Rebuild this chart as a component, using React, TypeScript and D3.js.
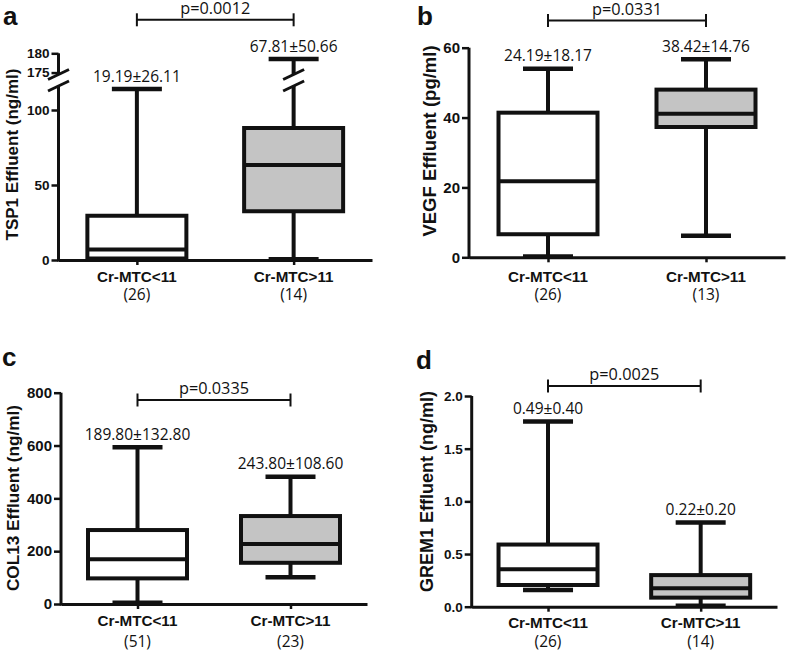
import React from 'react';
import * as d3 from 'd3';

const groups = ['Cr-MTC<11', 'Cr-MTC>11'];
const boxFills = ['#ffffff', '#c4c4c4'];

// [min, q1, median, q3, max] per group
const tsp1Boxes = [
  [0.5, 1, 7, 29.5, 114],
  [0.5, 32.5, 63.3, 88, 178.5],
];
const tsp1Means = ['19.19±26.11', '67.81±50.66'];
const tsp1Counts = ['(26)', '(14)'];
const tsp1Ticks = [0, 50, 100, 175, 180];

const vegfBoxes = [
  [0.2, 6.6, 21.8, 41.4, 54],
  [6.2, 37.3, 41.1, 48, 56.7],
];
const vegfMeans = ['24.19±18.17', '38.42±14.76'];
const vegfCounts = ['(26)', '(13)'];
const vegfTicks = [0, 20, 40, 60];

const col13Boxes = [
  [5, 97, 169, 280, 593],
  [101, 156, 227, 333, 482],
];
const col13Means = ['189.80±132.80', '243.80±108.60'];
const col13Counts = ['(51)', '(23)'];
const col13Ticks = [0, 200, 400, 600, 800];

const grem1Boxes = [
  [0.158, 0.206, 0.355, 0.59, 1.757],
  [0.01, 0.086, 0.175, 0.3, 0.8],
];
const grem1Means = ['0.49±0.40', '0.22±0.20'];
const grem1Counts = ['(26)', '(14)'];
const grem1Ticks = [0, 0.5, 1, 1.5, 2];

const pValues = ['p=0.0012', 'p=0.0331', 'p=0.0335', 'p=0.0025'];

const BOLD = "'Liberation Sans', Arial, Helvetica, sans-serif";
const REG = "'Open Sans', 'Noto Sans', sans-serif";
const INK = '#111';

const panels = [
  {
    letter: 'a', title: 'TSP1 Effluent (ng/ml)', boxes: tsp1Boxes, means: tsp1Means, counts: tsp1Counts,
    ticks: tsp1Ticks, fmt: d3.format('d'), p: pValues[0],
    // broken axis: 116..174.5 is skipped
    domain: [0, 116, 174.5, 180], range: [260, 86, 74.5, 53.3], brk: [116, 174.5],
    x0: 58.5, x1: 372, letterPos: [3, 25], titlePos: [17.5, 154.5], titleSize: 17, tickSize: 13.5,
    bracketY: 19.8, labelY: 282, countY: 299.5,
  },
  {
    letter: 'b', title: 'VEGF Effluent (pg/ml)', boxes: vegfBoxes, means: vegfMeans, counts: vegfCounts,
    ticks: vegfTicks, fmt: d3.format('d'), p: pValues[1],
    domain: [0, 60], range: [257.3, 47.7], brk: null,
    x0: 469, x1: 785, letterPos: [417, 25], titlePos: [436, 141], titleSize: 18.5, tickSize: 15,
    bracketY: 20.5, labelY: 282, countY: 300,
  },
  {
    letter: 'c', title: 'COL13 Effluent (ng/ml)', boxes: col13Boxes, means: col13Means, counts: col13Counts,
    ticks: col13Ticks, fmt: d3.format('d'), p: pValues[2],
    domain: [0, 800], range: [604, 392.7], brk: null,
    x0: 61, x1: 367, letterPos: [2, 366], titlePos: [18.5, 498], titleSize: 17.2, tickSize: 15,
    bracketY: 400, labelY: 626, countY: 647,
  },
  {
    letter: 'd', title: 'GREM1 Effluent (ng/ml)', boxes: grem1Boxes, means: grem1Means, counts: grem1Counts,
    ticks: grem1Ticks, fmt: d3.format('.1f'), p: pValues[3],
    domain: [0, 2], range: [606.7, 396], brk: null,
    x0: 471.7, x1: 777, letterPos: [416, 369], titlePos: [433, 491.5], titleSize: 18, tickSize: 13.5,
    bracketY: 386, labelY: 628, countY: 647,
  },
];

const Slash = ({ cx, cy }: { cx: number; cy: number }) => (
  <line x1={cx - 10.5} y1={cy + 5} x2={cx + 10.5} y2={cy - 5} stroke={INK} strokeWidth={3} />
);

const Panel = ({ cfg }: { cfg: any }) => {
  const yAxisRef = React.useRef(null);
  const xAxisRef = React.useRef(null);

  const y = d3.scaleLinear().domain(cfg.domain).range(cfg.range);
  const x = d3.scalePoint().domain(groups).range([cfg.x0, cfg.x1]).padding(0.5);
  const y0 = cfg.range[0];
  const yTop = cfg.range[cfg.range.length - 1];
  const boxW = 99;
  const capW = 50;

  React.useEffect(() => {
    const gy = d3.select(yAxisRef.current);
    gy.call(
      d3.axisLeft(y).tickValues(cfg.ticks).tickFormat(cfg.fmt).tickSize(7).tickPadding(2).tickSizeOuter(0) as any
    );
    gy.select('.domain').remove();
    gy.selectAll('.tick line').attr('stroke', INK).attr('stroke-width', 2.5);
    gy.selectAll('.tick text')
      .attr('fill', INK)
      .style('font-family', BOLD)
      .style('font-weight', 'bold')
      .style('font-size', `${cfg.tickSize}px`);

    const gx = d3.select(xAxisRef.current);
    gx.call(d3.axisBottom(x).tickSize(5).tickSizeOuter(0).tickFormat(() => '') as any);
    gx.select('.domain').attr('stroke', INK).attr('stroke-width', 3);
    gx.selectAll('.tick line').attr('stroke', INK).attr('stroke-width', 2.5);
  }, [cfg]);

  // y axis line, broken in two where the scale has a gap
  const axisSegs = cfg.brk
    ? [[y0 + 1.5, y(cfg.brk[0])], [y(cfg.brk[1]), yTop]]
    : [[y0 + 1.5, yTop]];

  const mx = ((x(groups[0]) as number) + (x(groups[1]) as number)) / 2;

  return (
    <g>
      <text x={cfg.letterPos[0]} y={cfg.letterPos[1]} fontFamily={BOLD} fontWeight="bold" fontSize={26} fill={INK}>
        {cfg.letter}
      </text>
      <text
        transform={`translate(${cfg.titlePos[0]},${cfg.titlePos[1]}) rotate(-90)`}
        textAnchor="middle"
        fontFamily={BOLD}
        fontWeight="bold"
        fontSize={cfg.titleSize}
        fill={INK}
      >
        {cfg.title}
      </text>

      {axisSegs.map((s: number[], i: number) => (
        <line key={i} x1={cfg.x0} x2={cfg.x0} y1={s[0]} y2={s[1]} stroke={INK} strokeWidth={3} />
      ))}
      {cfg.brk && cfg.brk.map((v: number, i: number) => <Slash key={i} cx={cfg.x0} cy={y(v)} />)}
      <g ref={yAxisRef} transform={`translate(${cfg.x0},0)`} />
      <g ref={xAxisRef} transform={`translate(0,${y0})`} />

      {cfg.boxes.map((b: number[], i: number) => {
        const cx = x(groups[i]) as number;
        const [mn, q1, md, q3, mxv] = b;
        const broken = cfg.brk && mxv > cfg.brk[1];
        const upper = broken
          ? [[y(q3), y(cfg.brk[0])], [y(cfg.brk[1]), y(mxv)]]
          : [[y(q3), y(mxv)]];
        return (
          <g key={i}>
            {upper.map((s: number[], j: number) => (
              <line key={j} x1={cx} x2={cx} y1={s[0]} y2={s[1]} stroke={INK} strokeWidth={4} />
            ))}
            {broken && cfg.brk.map((v: number, j: number) => <Slash key={'s' + j} cx={cx} cy={y(v)} />)}
            <line x1={cx} x2={cx} y1={y(q1)} y2={y(mn)} stroke={INK} strokeWidth={4} />
            <line x1={cx - capW / 2} x2={cx + capW / 2} y1={y(mxv)} y2={y(mxv)} stroke={INK} strokeWidth={4.5} />
            <line x1={cx - capW / 2} x2={cx + capW / 2} y1={y(mn)} y2={y(mn)} stroke={INK} strokeWidth={4.5} />
            <rect
              x={cx - boxW / 2}
              y={y(q3)}
              width={boxW}
              height={y(q1) - y(q3)}
              fill={boxFills[i]}
              stroke={INK}
              strokeWidth={4}
            />
            <line x1={cx - boxW / 2} x2={cx + boxW / 2} y1={y(md)} y2={y(md)} stroke={INK} strokeWidth={4} />
            <text x={cx} y={y(mxv) - 7.5} textAnchor="middle" fontFamily={REG} fontSize={15.5} fill={INK}>
              {cfg.means[i]}
            </text>
            <text x={cx} y={cfg.labelY} textAnchor="middle" fontFamily={BOLD} fontWeight="bold" fontSize={15.2} fill={INK}>
              {groups[i]}
            </text>
            <text x={cx} y={cfg.countY} textAnchor="middle" fontFamily={REG} fontSize={15.5} fill={INK}>
              {cfg.counts[i]}
            </text>
          </g>
        );
      })}

      <line x1={x(groups[0])} x2={x(groups[1])} y1={cfg.bracketY} y2={cfg.bracketY} stroke={INK} strokeWidth={2} />
      {groups.map((gname) => (
        <line
          key={gname}
          x1={x(gname)}
          x2={x(gname)}
          y1={cfg.bracketY - 6.5}
          y2={cfg.bracketY + 6.5}
          stroke={INK}
          strokeWidth={2}
        />
      ))}
      <text x={mx} y={cfg.bracketY - 6} textAnchor="middle" fontFamily={REG} fontSize={16.3} fill={INK}>
        {cfg.p}
      </text>
    </g>
  );
};

export default function App() {
  return (
    <svg width={787} height={651} style={{ position: 'absolute', left: 0, top: 0, background: '#fff' }}>
      <rect width={787} height={651} fill="#fff" />
      {panels.map((p) => (
        <Panel key={p.letter} cfg={p} />
      ))}
    </svg>
  );
}
